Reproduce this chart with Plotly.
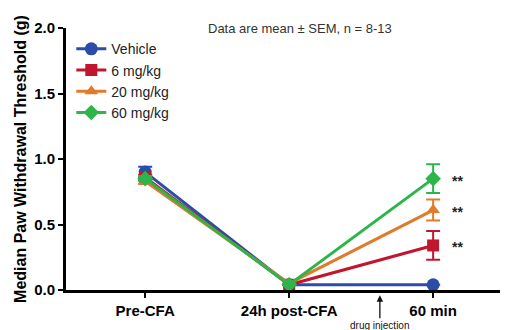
import plotly.graph_objects as go

categories = ["Pre-CFA", "24h post-CFA", "60 min"]
series_names = ["Vehicle", "6 mg/kg", "20 mg/kg", "60 mg/kg"]
vehicle = [0.90, 0.04, 0.04]
vehicle_sem = [0.04, 0.0, 0.0]
mg6 = [0.86, 0.04, 0.34]
mg6_sem = [0.02, 0.0, 0.11]
mg20 = [0.83, 0.05, 0.61]
mg20_sem = [0.02, 0.0, 0.08]
mg60 = [0.85, 0.04, 0.85]
mg60_sem = [0.02, 0.0, 0.11]
colors = ["#2B4DA8", "#C0172F", "#E07A2C", "#2DB54B"]
symbols = ["circle", "square", "triangle-up", "diamond"]
sig_labels = ["", "**", "**", "**"]

values = [vehicle, mg6, mg20, mg60]
sems = [vehicle_sem, mg6_sem, mg20_sem, mg60_sem]
xs = list(range(len(categories)))

fig = go.Figure()
for name, v, e, c, s in zip(series_names, values, sems, colors, symbols):
    fig.add_trace(go.Scatter(
        x=xs, y=v, name=name, mode="lines+markers", legendgroup=name,
        line=dict(color=c, width=3),
        marker=dict(color=c, symbol=s, size=13 if s == "circle" else 12),
        error_y=dict(type="data", array=e, color=c, thickness=2, width=7, visible=True),
        cliponaxis=False,
    ))

for lab, v in zip(sig_labels, values):
    if lab:
        fig.add_annotation(x=xs[-1], y=v[-1], text="<b>%s</b>" % lab, showarrow=False,
                           xshift=24, yshift=-2, font=dict(size=14, color="#222"))

fig.add_annotation(x=0.53, y=1.0, xref="paper", yref="paper", text="Data are mean ± SEM, n = 8-13",
                   showarrow=False, font=dict(size=13, color="#333"), yanchor="middle")
fig.add_annotation(x=1.63, y=-0.02, xref="x", yref="paper", ax=0, ay=23,
                   text="drug injection", showarrow=True, arrowhead=2, arrowsize=1,
                   arrowwidth=1.3, arrowcolor="#111", standoff=0,
                   font=dict(size=10, color="#111"), yanchor="top")

fig.update_layout(
    width=500, height=322,
    margin=dict(l=58, r=0, t=20, b=40),
    paper_bgcolor="white", plot_bgcolor="white",
    font=dict(family="Liberation Sans, Arial, sans-serif", color="black"),
    showlegend=True,
    legend=dict(x=0.012, y=0.98, xanchor="left", yanchor="top",
                font=dict(size=14, color="#222"), bgcolor="rgba(0,0,0,0)",
                itemwidth=30, tracegroupgap=0),
    xaxis=dict(range=[-0.55, 2.52], tickvals=xs, ticktext=["<b>%s</b>" % c for c in categories],
               showline=True, linecolor="black", linewidth=3, ticks="outside",
               ticklen=5, tickwidth=2, tickcolor="black", showgrid=False, zeroline=False,
               tickfont=dict(size=15), automargin=False),
    yaxis=dict(range=[0, 2.0], tickvals=[0, 0.5, 1.0, 1.5, 2.0],
               ticktext=["<b>0.0</b>", "<b>0.5</b>", "<b>1.0</b>", "<b>1.5</b>", "<b>2.0</b>"],
               showline=True, linecolor="black", linewidth=3, ticks="outside",
               ticklen=5, tickwidth=2, tickcolor="black", showgrid=False, zeroline=False,
               tickfont=dict(size=15), automargin=False,
               title=dict(text="<b>Median Paw Withdrawal Threshold (g)</b>", font=dict(size=16), standoff=4)),
)

fig.write_html("out.html")
